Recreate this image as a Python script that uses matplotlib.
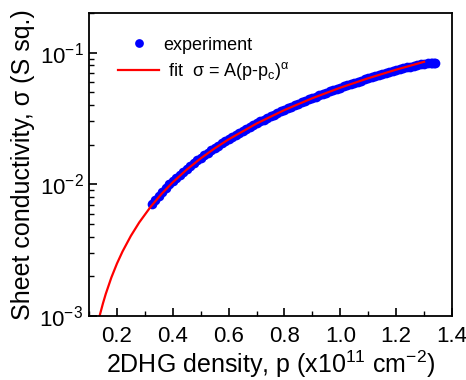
import matplotlib
matplotlib.use("Agg")
from matplotlib import pyplot as plt
from matplotlib.ticker import MultipleLocator, LogLocator, NullFormatter
import numpy as np

plt.rcParams['font.family'] = ['Liberation Sans', 'DejaVu Sans']
plt.rcParams['mathtext.fontset'] = 'custom'
plt.rcParams['mathtext.rm'] = 'Liberation Sans'
plt.rcParams['mathtext.it'] = 'Liberation Sans'

# experiment
p_exp = [0.325, 0.3375, 0.35, 0.3625, 0.375, 0.3875, 0.40, 0.4125, 0.425, 0.4375,
         0.45, 0.4625, 0.475, 0.4875, 0.50, 0.5125, 0.525, 0.5375, 0.55, 0.5625,
         0.575, 0.5875, 0.60, 0.6125, 0.625, 0.6375, 0.65, 0.6625, 0.675, 0.6875,
         0.70, 0.7125, 0.725, 0.7375, 0.75, 0.7625, 0.775, 0.7875, 0.80, 0.8125,
         0.825, 0.8375, 0.85, 0.8625, 0.875, 0.8875, 0.90, 0.9125, 0.925, 0.9375,
         0.95, 0.9625, 0.975, 0.9875, 1.00, 1.0125, 1.025, 1.0375, 1.05, 1.0625,
         1.075, 1.0875, 1.10, 1.1125, 1.125, 1.1375, 1.15, 1.1625, 1.175, 1.1875,
         1.20, 1.2125, 1.225, 1.2375, 1.25, 1.2625, 1.275, 1.2875, 1.30, 1.315,
         1.325, 1.33, 1.335, 1.34]
sig_exp = [0.00715, 0.00765, 0.0082, 0.0088, 0.0094, 0.0100, 0.0106, 0.0112, 0.0118, 0.01245,
           0.0131, 0.0138, 0.0145, 0.0152, 0.0159, 0.01665, 0.0174, 0.01815, 0.0189, 0.0197,
           0.0205, 0.0213, 0.0221, 0.02295, 0.0238, 0.02465, 0.0255, 0.0264, 0.0273, 0.0282,
           0.0291, 0.03005, 0.0310, 0.03195, 0.0329, 0.03385, 0.0348, 0.0358, 0.0368, 0.03785,
           0.0389, 0.03995, 0.0410, 0.04205, 0.0431, 0.04415, 0.0452, 0.0463, 0.0474, 0.04855,
           0.0497, 0.05085, 0.0520, 0.05315, 0.0543, 0.05545, 0.0566, 0.05775, 0.0589, 0.0601,
           0.0613, 0.0625, 0.0637, 0.0649, 0.0661, 0.06735, 0.0686, 0.06985, 0.0711, 0.0723,
           0.0735, 0.07475, 0.0760, 0.0772, 0.0784, 0.0795, 0.0806, 0.0816, 0.0825, 0.0830,
           0.0835, 0.0836, 0.0836, 0.0833]

# fit curve
p_fit = [0.137, 0.14, 0.15, 0.16, 0.18, 0.20, 0.22, 0.25, 0.28, 0.32, 0.36, 0.40,
         0.45, 0.50, 0.55, 0.60, 0.70, 0.80, 0.90, 1.00, 1.10, 1.20, 1.30]
sig_fit = [0.000983, 0.001043, 0.001251, 0.001475, 0.001963, 0.002504, 0.003095,
           0.004070, 0.005148, 0.006730, 0.008478, 0.010375, 0.01295, 0.01575,
           0.01875, 0.02196, 0.02895, 0.03667, 0.04508, 0.05417, 0.06388,
           0.07421, 0.08514]

fig = plt.figure(figsize=(4.66, 3.80), dpi=100)
ax = fig.add_axes([0.191, 0.168, 0.779, 0.798])

ax.plot(p_exp, sig_exp, 'o', color='#0000ff', markersize=7, markeredgewidth=0,
        label="experiment")
ax.plot(p_fit, sig_fit, '-', color='#ff0000', lw=1.6,
        label=r" fit  σ = A(p-p$_\mathregular{c}$)$^\mathregular{α}$")

ax.set_yscale('log')
ax.set_xlim(0.1, 1.4)
ax.set_ylim(1e-3, 0.2)

ax.xaxis.set_minor_locator(MultipleLocator(0.1))
ax.set_xticks([0.2, 0.4, 0.6, 0.8, 1.0, 1.2, 1.4])
ax.set_xticklabels(["0.2", "0.4", "0.6", "0.8", "1.0", "1.2", "1.4"])
ax.yaxis.set_minor_locator(LogLocator(base=10, subs=np.arange(2, 10), numticks=10))
ax.yaxis.set_minor_formatter(NullFormatter())
ax.set_yticks([1e-3, 1e-2, 1e-1])
ax.set_yticklabels([r"10$^\mathregular{-3}$", r"10$^\mathregular{-2}$", r"10$^\mathregular{-1}$"])

ax.tick_params(which='major', direction='in', length=6, width=1.2, labelsize=16)
ax.tick_params(axis='x', which='major', pad=7)
ax.tick_params(axis='y', which='major', pad=4)
ax.tick_params(which='minor', direction='in', length=3.5, width=1.0)
for s in ax.spines.values():
    s.set_linewidth(1.3)

ax.set_xlabel(r"2DHG density, p (x10$^\mathregular{11}$ cm$^\mathregular{-2}$)", fontsize=18, labelpad=1)
ax.set_ylabel("Sheet conductivity, σ (S sq.)", fontsize=18, labelpad=3)

ax.legend(loc='upper left', bbox_to_anchor=(0.035, 0.975), frameon=False, fontsize=13,
          handlelength=2.3, handletextpad=0.2, labelspacing=0.35, markerscale=0.9)

fig.savefig("out.png", dpi=100)
